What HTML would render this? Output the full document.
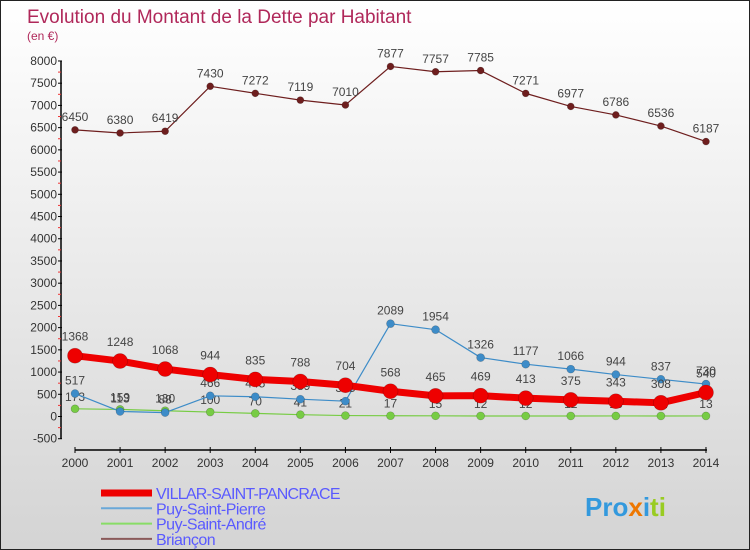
<!DOCTYPE html>
<html><head><meta charset="utf-8">
<style>
html,body{margin:0;padding:0;}
body{width:750px;height:550px;overflow:hidden;font-family:"Liberation Sans",sans-serif;}
#wrap{position:relative;width:748px;height:548px;border:1px solid #222;background:linear-gradient(#ffffff 0%,#eeeeee 40%,#d4d4d4 100%);}
svg{position:absolute;left:0;top:0;}
</style></head><body>
<div id="wrap">
<svg id="chart" width="748" height="548"></svg>
</div>
<script>
const years=["2000","2001","2002","2003","2004","2005","2006","2007","2008","2009","2010","2011","2012","2013","2014"];
const villar=[1368,1248,1068,944,835,788,704,568,465,469,413,375,343,308,540];
const pierre=[517,113,88,466,445,389,345,2089,1954,1326,1177,1066,944,837,730];
const andre=[173,159,130,100,70,41,21,17,15,12,12,12,13,12,13];
const briancon=[6450,6380,6419,7430,7272,7119,7010,7877,7757,7785,7271,6977,6786,6536,6187];
const yTicks=[-500,0,500,1000,1500,2000,2500,3000,3500,4000,4500,5000,5500,6000,6500,7000,7500,8000];
const svg=document.getElementById('chart');
const NS='http://www.w3.org/2000/svg';
function X(i){return 74+i*45.07;}
function Y(v){return 415.5-v*0.04444;}
function mk(tag,attrs,parent){const e=document.createElementNS(NS,tag);for(const k in attrs)e.setAttribute(k,attrs[k]);(parent||svg).appendChild(e);return e;}
let t=mk('text',{x:26,y:22,'font-size':19,fill:'#b0285a'});t.textContent='Evolution du Montant de la Dette par Habitant';

t=mk('text',{x:26,y:39,'font-size':12,fill:'#b0285a'});t.textContent='(en €)';

let ax=mk('line',{x1:60,y1:Y(8000),x2:60,y2:Y(-500),stroke:'#000','stroke-width':1.5});

yTicks.forEach(v=>{
  mk('line',{x1:57,y1:Y(v),x2:61,y2:Y(v),stroke:'#000'});
  mk('line',{x1:57,y1:Y(v+250),x2:60,y2:Y(v+250),stroke:v<8000?'#e33':'none'});
  const l=mk('text',{x:56,y:Y(v)+4,'font-size':12,'text-anchor':'end',fill:'#333'});l.textContent=v;
  
});
ax=mk('line',{x1:74,y1:449,x2:X(14)+1,y2:449,stroke:'#000','stroke-width':1.5});

years.forEach((y,i)=>{
  mk('line',{x1:X(i),y1:446,x2:X(i),y2:452,stroke:'#000'});
  const l=mk('text',{x:X(i),y:466,'font-size':12,'text-anchor':'middle',fill:'#333'});l.textContent=y;
  
});
function series(data,color,w,r,name,labOff){
  const g=mk('g',{});
  
  const pts=data.map((v,i)=>X(i)+','+Y(v)).join(' ');
  mk('polyline',{points:pts,fill:'none',stroke:color,'stroke-width':w,'stroke-linejoin':'round'},g);
  data.forEach((v,i)=>{
    const c=mk('circle',{cx:X(i),cy:Y(v),r:r,fill:color,stroke:'rgba(0,0,0,0.25)','stroke-width':0.6},g);
    
    const l=mk('text',{x:X(i),y:Y(v)-labOff,'font-size':12,'text-anchor':'middle',fill:'#444'},g);l.textContent=v;
    
  });
}
series(andre,'#77cc44',1.2,4,'puy-saint-andre-series',8);
series(pierre,'#3d8cc8',1.2,4,'puy-saint-pierre-series',9);
series(villar,'#ee0000',7,7.5,'villar-series',15);
series(briancon,'#6e1e1e',1.2,3.5,'briancon-series',9);
const leg=[['VILLAR-SAINT-PANCRACE','#ee0000',7],['Puy-Saint-Pierre','#6aa8d8',2],['Puy-Saint-André','#88dd66',2],['Briançon','#8a5a5a',2]];
leg.forEach((d,i)=>{
  const y=492+i*15.3;
  const g=mk('g',{});
  mk('line',{x1:100,y1:y,x2:151,y2:y,stroke:d[1],'stroke-width':d[2]},g);
  const l=mk('text',{x:155,y:y+6,'font-size':16,fill:'#5a5aff','letter-spacing':-0.5},g);
  if(i==0)l.setAttribute('textLength',184);
  l.textContent=d[0];
});
const lg=mk('text',{x:584,y:515,'font-size':26,'font-weight':'bold',fill:'#3399dd'});

const parts=[['Pro','#3399dd'],['x','#ee7700'],['i','#3399dd'],['ti','#99cc22']];
parts.forEach(p=>{const s=mk('tspan',{fill:p[1]},lg);s.textContent=p[0];});
</script>
</body></html>
